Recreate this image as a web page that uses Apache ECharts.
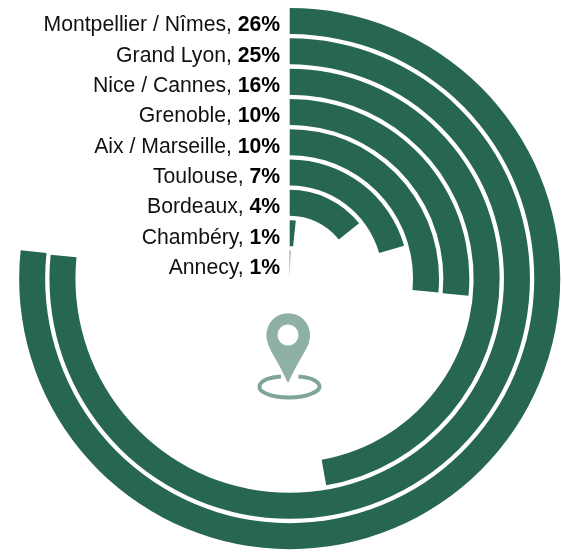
<!DOCTYPE html>
<html><head><meta charset="utf-8">
<style>html,body{margin:0;padding:0;background:#fff}#c{width:563px;height:553px}</style>
<script src="https://cdn.jsdelivr.net/npm/echarts@6/dist/echarts.min.js"></script>
</head><body><div id="c"></div>
<script>
const categories = ['Montpellier / Nîmes','Grand Lyon','Nice / Cannes','Grenoble','Aix / Marseille','Toulouse','Bordeaux','Chambéry','Annecy'];
const shownPercent = ['26%','25%','16%','10%','10%','7%','4%','1%','1%'];
// arc lengths as drawn in the picture, in degrees of sweep
const sweepValues = [276, 275.7, 170, 95.5, 95.3, 74, 51.5, 6, 1.5];

const chart = echarts.init(document.getElementById('c'), null, {renderer:'canvas'});
chart.setOption({
  animation:false,
  backgroundColor:'#fff',
  polar:{center:[289.7,278.6], radius:[0,272.7]},
  angleAxis:{type:'value', min:0, max:360, startAngle:90, clockwise:true,
    axisLine:{show:false}, axisTick:{show:false}, axisLabel:{show:false}, splitLine:{show:false}},
  radiusAxis:{type:'category', inverse:true, data:categories,
    axisLine:{show:false}, axisTick:{show:false}, splitLine:{show:false},
    z:10,
    axisLabel:{show:true, interval:0, margin:9.5, hideOverlap:false, padding:[9,0,0,0],
      formatter:(v,i)=>`{n|${v}, }{b|${shownPercent[i]}}`,
      rich:{
        n:{fontFamily:'Liberation Sans', fontSize:21.2, color:'#111'},
        b:{fontFamily:'Liberation Sans', fontSize:21.2, fontWeight:'bold', color:'#000'}
      }}},
  series:[{type:'bar', coordinateSystem:'polar', data:sweepValues, barWidth:26,
    itemStyle:{color:'#27674f'}, silent:true}],
  graphic:[
    {type:'polyline', shape:{points:[[298.5,376.6],[306,377.5],[313,379.5],[318,383],[319.5,386.5],[318,390],[312,393.5],[302,396.5],[289,397.5],[276,396.5],[266,393.5],[260.5,390],[259.5,386.5],[261,383],[266,379.5],[273,377.5],[281,376.4]], smooth:0.4},
      style:{fill:null, stroke:'#7fa598', lineWidth:4}, silent:true},
    {type:'circle', shape:{cx:288.2,cy:335,r:21.8}, style:{fill:'#8fb0a5'}, silent:true},
    {type:'polygon', shape:{points:[[266.6,337],[268,344],[271,351],[275,358],[280,367],[284,375],[288,383],[292,375],[296,367],[301,358],[305,351],[308.5,344],[309.9,337]]},
      style:{fill:'#8fb0a5'}, silent:true},
    {type:'circle', shape:{cx:288,cy:335,r:10.5}, style:{fill:'#fff'}, silent:true}
  ]
});
</script></body></html>
